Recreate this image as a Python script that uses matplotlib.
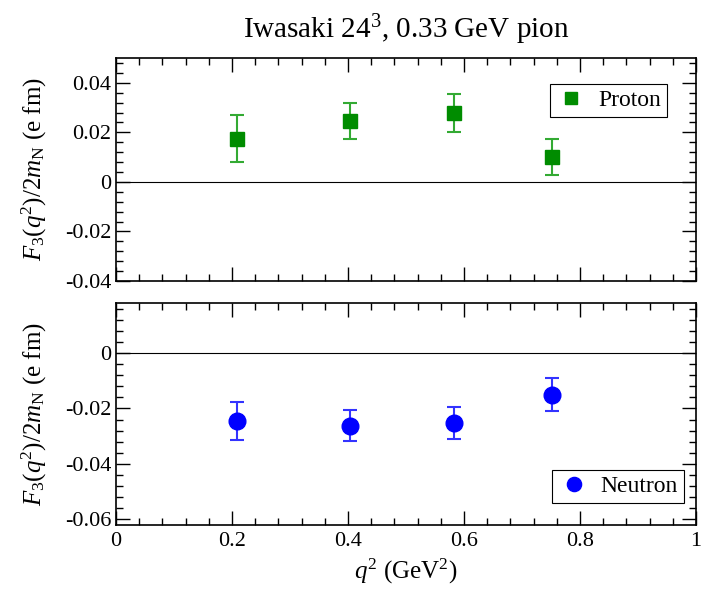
import matplotlib
matplotlib.use("Agg")
import matplotlib.pyplot as plt
from matplotlib.ticker import MultipleLocator

plt.rcParams['font.family'] = ['Liberation Serif', 'DejaVu Serif']
plt.rcParams['mathtext.fontset'] = 'custom'
plt.rcParams['mathtext.rm'] = 'Liberation Serif'
plt.rcParams['mathtext.it'] = 'Liberation Serif:italic'

# data
q2_proton = [0.208, 0.403, 0.583, 0.752]
f3_proton = [0.0174, 0.0246, 0.0278, 0.0101]
err_proton = [0.0094, 0.0074, 0.0078, 0.0073]

q2_neutron = [0.208, 0.403, 0.583, 0.752]
f3_neutron = [-0.0245, -0.0262, -0.0252, -0.0150]
err_neutron = [0.0068, 0.0055, 0.0058, 0.0059]

title = "Iwasaki 24$^3$, 0.33 GeV pion"
ylabel = "$F_3(q^2)/2m_\\mathrm{N}$ (e fm)"
xlabel = "$q^2$ (GeV$^2$)"

fig = plt.figure(figsize=(7.12, 5.99), dpi=100)
L, R = 116/712, 696/712
ax1 = fig.add_axes([L, 1-281/599, R-L, (281-58)/599])
ax2 = fig.add_axes([L, 1-525/599, R-L, (525-303)/599])

ax1.errorbar(q2_proton, f3_proton, yerr=err_proton, fmt='none',
             ecolor='#33aa33', elinewidth=1.5, capsize=5, capthick=1.5, zorder=2)
ax1.plot(q2_proton, f3_proton, 's', color='#008c00', markersize=10,
         label='Proton', zorder=3)
ax2.errorbar(q2_neutron, f3_neutron, yerr=err_neutron, fmt='none',
             ecolor='#3333ff', elinewidth=1.5, capsize=5, capthick=1.5, zorder=2)
ax2.plot(q2_neutron, f3_neutron, 'o', color='#0000ff', markersize=12,
         label='Neutron', zorder=3)

for ax in (ax1, ax2):
    ax.axhline(0, color='black', lw=0.8, zorder=1)
    ax.set_xlim(0, 1)
    ax.xaxis.set_major_locator(MultipleLocator(0.2))
    ax.xaxis.set_minor_locator(MultipleLocator(0.04))
    ax.yaxis.set_major_locator(MultipleLocator(0.02))
    ax.yaxis.set_minor_locator(MultipleLocator(0.004))
    ax.tick_params(which='both', direction='in', top=True, right=True, labelsize=16)
    ax.tick_params(which='major', length=10, width=1)
    ax.tick_params(which='minor', length=5, width=1)
    for s in ax.spines.values():
        s.set_linewidth(1.2)
    ax.set_ylabel(ylabel, fontsize=18)
    ax.yaxis.set_label_coords(-0.115, 0.5)

def fmt(v):
    if abs(v) < 1e-9:
        return '0'
    return f'{v:.2f}'

yt1 = [-0.04, -0.02, 0, 0.02, 0.04]
ax1.set_ylim(-0.04, 0.05)
ax1.set_yticks(yt1)
ax1.set_yticklabels([fmt(v) for v in yt1])
ax1.tick_params(axis='x', labelbottom=False)

yt2 = [-0.06, -0.04, -0.02, 0]
ax2.set_ylim(-0.062, 0.018)
ax2.set_yticks(yt2)
ax2.set_yticklabels([fmt(v) for v in yt2])
xt = [0, 0.2, 0.4, 0.6, 0.8, 1.0]
ax2.set_xticks(xt)
ax2.set_xticklabels(['0', '0.2', '0.4', '0.6', '0.8', '1'])
ax2.tick_params(axis='x', pad=5)
ax2.set_xlabel(xlabel, fontsize=18, labelpad=4)

leg_kw = dict(fontsize=17, frameon=True, fancybox=False, edgecolor='black',
              framealpha=1, handletextpad=0.5, borderpad=0.25, handlelength=1.3,
              borderaxespad=0)
leg1 = ax1.legend(loc='upper right', bbox_to_anchor=(667/712, 1-84/599),
                  bbox_transform=fig.transFigure, markerscale=0.85, **leg_kw)
leg2 = ax2.legend(loc='lower right', bbox_to_anchor=(684/712, 1-503/599),
                  bbox_transform=fig.transFigure, markerscale=0.85, **leg_kw)
for leg in (leg1, leg2):
    leg.get_frame().set_linewidth(0.8)

fig.text((L+R)/2, 1-30/599, title, ha='center', va='center', fontsize=21)

fig.savefig('out.png', dpi=100)
